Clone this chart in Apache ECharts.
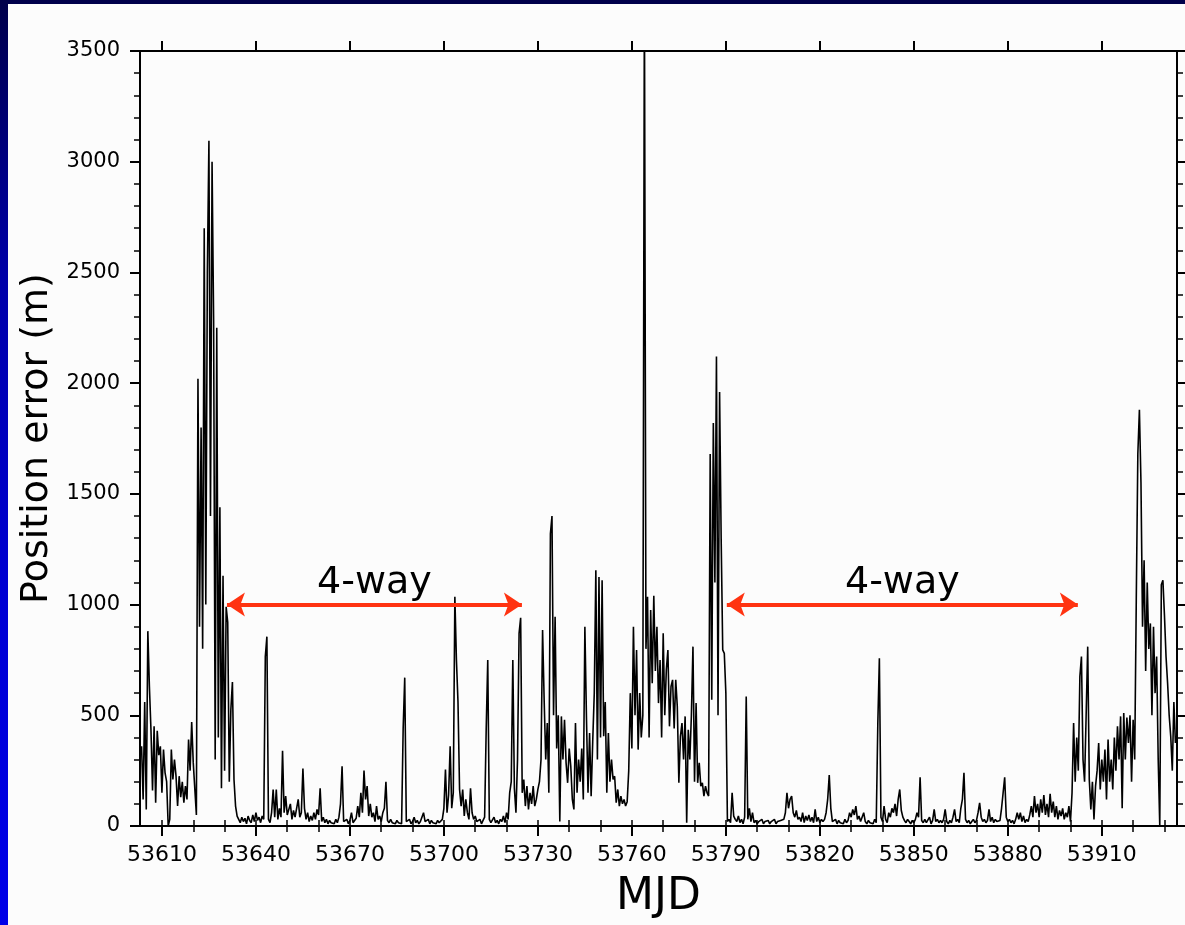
<!DOCTYPE html>
<html><head><meta charset="utf-8">
<script src="https://cdn.jsdelivr.net/npm/echarts@6/dist/echarts.min.js"></script>
<style>
html,body{margin:0;padding:0;width:1185px;height:925px;overflow:hidden;
background:linear-gradient(to bottom,#00004a 0%,#0000a8 30%,#0000d4 65%,#0000e8 100%);}
#panel{position:absolute;left:8px;top:4px;right:0;bottom:0;background:#fcfcfc;}
#chart{position:absolute;left:0;top:0;width:1185px;height:925px;}
</style></head><body><div id="panel"></div><div id="chart"></div>
<script>
// Sampling grid of the series (MJD of first sample, spacing in days)
const mjdStart = 53603.5;
const mjdStep = 0.5;
// Position error (m), one value per half day
const positionError = [
  360, 120, 560, 75, 880, 630, 435, 160, 450, 105,
  430, 320, 360, 150, 345, 240, 200, 0, 30, 345,
  210, 300, 225, 90, 225, 130, 200, 105, 180, 120,
  390, 250, 470, 285, 280, 50, 2020, 900, 1800, 800,
  2700, 1000, 2500, 3095, 1400, 3000, 2280, 300, 2250, 400,
  1440, 170, 1130, 250, 990, 920, 200, 525, 650, 210,
  90, 45, 30, 15, 40, 20, 35, 10, 45, 25,
  15, 50, 20, 60, 25, 40, 15, 45, 30, 765,
  855, 30, 15, 60, 165, 40, 165, 30, 80, 40,
  340, 60, 135, 50, 45, 100, 30, 70, 40, 45,
  120, 40, 60, 260, 80, 30, 60, 20, 45, 25,
  60, 30, 75, 50, 170, 20, 40, 15, 30, 10,
  25, 15, 20, 10, 30, 15, 40, 100, 270, 20,
  15, 30, 10, 25, 60, 15, 20, 35, 90, 40,
  150, 60, 250, 120, 180, 45, 100, 40, 60, 20,
  90, 30, 45, 20, 60, 80, 200, 25, 15, 30,
  15, 20, 10, 25, 15, 20, 10, 440, 670, 20,
  15, 30, 10, 20, 40, 15, 25, 10, 20, 15,
  60, 20, 15, 30, 10, 25, 15, 20, 10, 25,
  15, 20, 30, 80, 255, 60, 140, 360, 80, 150,
  1035, 750, 560, 165, 90, 165, 45, 120, 60, 30,
  170, 60, 30, 45, 20, 15, 30, 10, 25, 40,
  435, 750, 30, 15, 20, 40, 15, 25, 10, 30,
  20, 45, 15, 60, 30, 150, 200, 750, 170, 60,
  300, 870, 940, 150, 210, 90, 180, 75, 150, 100,
  180, 90, 120, 165, 200, 300, 885, 570, 300, 465,
  150, 1320, 1400, 500, 945, 350, 500, 20, 495, 300,
  480, 285, 195, 350, 270, 120, 75, 465, 150, 300,
  200, 350, 120, 900, 495, 150, 420, 135, 380, 600,
  1155, 300, 1125, 400, 1110, 405, 560, 150, 420, 200,
  300, 210, 225, 105, 165, 90, 135, 100, 120, 90,
  110, 250, 600, 350, 900, 500, 795, 345, 600, 400,
  500, 3800, 800, 1035, 400, 975, 645, 1040, 700, 900,
  555, 750, 400, 870, 500, 705, 795, 450, 630, 660,
  440, 660, 540, 195, 405, 465, 300, 495, 15, 435,
  300, 500, 810, 200, 555, 195, 285, 180, 195, 135,
  180, 150, 135, 1680, 570, 1820, 1100, 2120, 500, 1960,
  1300, 795, 780, 600, 20, 30, 15, 150, 45, 30,
  20, 45, 15, 30, 10, 40, 585, 30, 80, 20,
  60, 15, 25, 10, 20, 15, 30, 10, 20, 15,
  25, 10, 20, 15, 30, 10, 20, 15, 25, 20,
  30, 60, 150, 80, 120, 135, 60, 40, 70, 30,
  40, 20, 60, 15, 45, 25, 50, 20, 40, 15,
  75, 20, 40, 15, 30, 20, 30, 60, 120, 230,
  80, 20, 15, 30, 10, 25, 15, 20, 10, 30,
  15, 25, 60, 40, 75, 50, 90, 30, 45, 20,
  15, 60, 20, 10, 25, 15, 20, 10, 30, 15,
  460, 757, 40, 20, 90, 30, 15, 60, 40, 80,
  60, 100, 45, 120, 165, 70, 40, 25, 15, 30,
  20, 10, 25, 15, 30, 60, 40, 220, 25, 15,
  30, 15, 20, 40, 10, 25, 75, 20, 30, 15,
  25, 15, 30, 75, 20, 10, 25, 15, 40, 75,
  20, 30, 15, 80, 120, 240, 30, 15, 25, 10,
  20, 30, 15, 25, 60, 105, 40, 20, 30, 15,
  25, 75, 20, 40, 15, 30, 20, 15, 25, 80,
  150, 220, 40, 20, 30, 15, 25, 10, 30, 60,
  30, 60, 20, 45, 15, 30, 20, 50, 90, 40,
  135, 60, 100, 40, 120, 60, 140, 50, 100, 40,
  145, 60, 110, 40, 90, 30, 70, 45, 80, 30,
  60, 40, 90, 20, 150, 465, 200, 400, 250, 675,
  765, 300, 200, 500, 810, 210, 75, 200, 30, 180,
  250, 375, 165, 300, 200, 345, 120, 390, 200, 300,
  165, 400, 250, 450, 300, 495, 80, 510, 300, 490,
  375, 500, 200, 480, 300, 1020, 1680, 1880, 1550, 900,
  1200, 700, 1100, 800, 915, 500, 900, 600, 765, 300,
  0, 1090, 1110, 950, 765, 645, 500, 405, 250, 560, 375
];
// Axis ranges and ticks
const xMin = 53603, xMax = 53934;
const xMajorTicks = [53610, 53640, 53670, 53700, 53730, 53760, 53790, 53820, 53850, 53880, 53910];
const xMinorTicks = [53610, 53620, 53630, 53640, 53650, 53660, 53670, 53680, 53690, 53700, 53710, 53720,
  53730, 53740, 53750, 53760, 53770, 53780, 53790, 53800, 53810, 53820, 53830, 53840, 53850, 53860,
  53870, 53880, 53890, 53900, 53910, 53920, 53930];
const yMin = 0, yMax = 3500, yStep = 500;
// Annotations: 4-way periods (MJD from, MJD to), drawn at this error level
const wayPeriods = [[53630.75, 53724.9], [53790.3, 53902.35]];
const wayLevel = 1000;
const wayLabel = '4-way';

const FONT = 'DejaVu Sans';
const data = positionError.map((v, i) => [mjdStart + i * mjdStep, v]);
const black = '#000';
const axisLineOn = { show: true, onZero: false, lineStyle: { color: black, width: 2 } };

function xAx(pos, ticks, len, major) {
  return {
    type: 'value', min: xMin, max: xMax, position: pos,
    axisLine: major ? axisLineOn : { show: false },
    splitLine: { show: false },
    axisTick: { show: true, inside: false, length: len, customValues: ticks, lineStyle: { color: black, width: major ? 2 : 1.5 } },
    axisLabel: { show: false }
  };
}
const xBottom = xAx('bottom', xMajorTicks, 10, true);
xBottom.axisLabel = { show: true, customValues: xMajorTicks, formatter: v => String(v), fontFamily: FONT, fontSize: 22, color: black, margin: 18 };
xBottom.name = 'MJD';
xBottom.nameLocation = 'middle';
xBottom.nameGap = 50;
xBottom.nameTextStyle = { fontFamily: FONT, fontSize: 44, color: black };

function yAx(pos, labels) {
  const a = {
    type: 'value', min: yMin, max: yMax, interval: yStep, position: pos,
    axisLine: axisLineOn, splitLine: { show: false }, minorSplitLine: { show: false },
    axisTick: { show: true, inside: false, length: 10, lineStyle: { color: black, width: 2 } },
    minorTick: { show: true, splitNumber: 5, length: 6, lineStyle: { color: black, width: 1.5 } },
    axisLabel: labels ? { show: true, formatter: v => String(v), fontFamily: FONT, fontSize: 21, color: black, margin: 20 } : { show: false }
  };
  if (labels) {
    a.name = 'Position error (m)';
    a.nameLocation = 'middle';
    a.nameGap = 82;
    a.nameRotate = 90;
    a.nameTextStyle = { fontFamily: FONT, fontSize: 38, color: black };
  }
  return a;
}

const chart = echarts.init(document.getElementById('chart'), null, { renderer: 'canvas' });
chart.setOption({
  animation: false,
  backgroundColor: 'transparent',
  grid: { left: 140, right: 8, top: 51, bottom: 97, containLabel: false },
  xAxis: [xBottom, xAx('bottom', xMinorTicks, 6, false), xAx('top', xMajorTicks, 10, true), xAx('top', xMinorTicks, 6, false)],
  yAxis: [yAx('left', true), yAx('right', false)],
  series: [
    {
      type: 'line', xAxisIndex: 0, yAxisIndex: 0, data: data, symbol: 'none', showSymbol: false,
      lineStyle: { color: black, width: 1.6 }, clip: true, z: 2, silent: true
    },
    {
      type: 'line', xAxisIndex: 0, yAxisIndex: 0, data: [], z: 5, silent: true,
      markLine: {
        silent: true, animation: false,
        symbol: ['arrow', 'arrow'], symbolSize: 18,
        lineStyle: { color: '#ff3311', width: 4, type: 'solid' },
        label: { show: true, formatter: wayLabel, position: 'insideMiddleTop', distance: 2, fontFamily: FONT, fontSize: 38, color: black },
        emphasis: { disabled: true },
        data: wayPeriods.map(p => [{ coord: [p[0], wayLevel] }, { coord: [p[1], wayLevel] }])
      }
    }
  ]
});
</script></body></html>
